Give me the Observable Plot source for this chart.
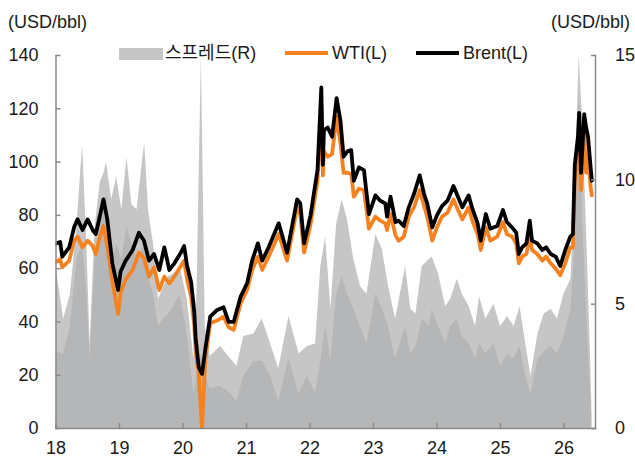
<!DOCTYPE html>
<html>
<head>
<meta charset="utf-8">
<script src="https://cdn.jsdelivr.net/npm/d3@7"></script>
<script src="https://cdn.jsdelivr.net/npm/@observablehq/plot@0.6"></script>
<style>
  html, body { margin: 0; padding: 0; background: #fff; }
  #chart svg { display: block; }
</style>
</head>
<body>
<div id="chart"></div>
<script>
// ---- Data ----
const priceDates = [
  "2018-01-01","2018-01-25","2018-02-06","2018-03-18","2018-04-15","2018-05-05","2018-06-03","2018-07-02","2018-07-31","2018-08-18",
  "2018-09-06","2018-10-01","2018-10-23","2018-11-21","2018-12-24","2019-01-08","2019-02-06","2019-03-18","2019-04-23","2019-05-22",
  "2019-06-20","2019-07-19","2019-08-18","2019-09-16","2019-10-15","2019-11-13","2019-12-20","2020-01-08","2020-01-25","2020-02-17",
  "2020-03-06","2020-03-14","2020-04-01","2020-04-20","2020-05-08","2020-06-06","2020-07-16","2020-08-22","2020-09-20","2020-10-19",
  "2020-11-28","2021-01-04","2021-02-02","2021-03-07","2021-04-01","2021-05-08","2021-07-05","2021-08-22","2021-10-19","2021-11-06",
  "2021-11-28","2022-01-04","2022-02-13","2022-03-07","2022-03-16","2022-03-22","2022-04-13","2022-05-08","2022-06-03","2022-06-25",
  "2022-07-13","2022-08-04","2022-08-26","2022-09-10","2022-10-09","2022-11-07","2022-12-06","2023-01-12","2023-02-09","2023-03-10",
  "2023-03-20","2023-04-09","2023-05-08","2023-05-26","2023-06-24","2023-07-23","2023-08-22","2023-09-24","2023-10-19","2023-11-06",
  "2023-12-05","2024-01-01","2024-01-30","2024-03-02","2024-04-05","2024-05-01","2024-05-26","2024-07-01","2024-07-23","2024-08-22",
  "2024-09-09","2024-10-08","2024-11-03","2024-12-13","2025-01-15","2025-02-06","2025-03-08","2025-04-01","2025-04-16","2025-05-05",
  "2025-05-30","2025-06-18","2025-07-01","2025-07-31","2025-08-29","2025-09-20","2025-10-16","2025-11-14","2025-12-10","2026-01-08",
  "2026-02-06","2026-02-21","2026-03-04","2026-03-22","2026-03-29","2026-04-09","2026-04-27","2026-05-08","2026-05-19","2026-06-03",
  "2026-06-10"
];
const brent = [
  69.5,70,64.5,68,75.5,78.5,74.5,78.5,74.5,73,
  78.5,86,78.5,62,52,59,63,67,73.5,70.5,
  63,65.5,59.5,68,59.5,62,66,68.5,61,55,
  44,34,23,20.5,29.5,42,44.5,45.5,40,40,
  49.5,54.5,63,69.5,63,68,77,66,86,84.5,
  69.5,80,97,128,99,112,113,109.5,124,115.5,
  102,104,104.5,93,98,97,80.5,87.5,85.5,84.5,
  79.5,87,77.5,78,76,83,88,95,88,84.5,
  75.5,80,83.5,85.5,91,87,83,87.5,82.5,77,
  70.5,80.5,75,76,82,77.5,75.5,73.5,65.5,68,
  69.5,78,70.5,69.5,67,68,65.5,64.5,61,67,
  72,73,99,109.5,118.5,96,118,113,109.5,98,
  93
];
const wti = [
  62.5,63.5,60.5,63,70.5,72,68,70.5,68.5,65.5,
  71,76,68.5,55.5,43,51,56,59.5,66,64,
  57,60.5,52,57,54.5,57,61,63,56,49.5,
  39,29.5,20.5,0,25.5,39.5,40.5,42,38,37,
  47,52,59.5,64.5,59.5,64.5,73,63,83,80.5,
  66,76.5,93,121,95,104,102,103,117,107,
  96,96,95.5,87,90,89.5,75,79.5,78,77,
  74.5,80.5,72.5,70.5,72,79.5,83,89.5,83.5,79.5,
  70.5,75.5,79.5,81,86,82,78.5,83,78,73,
  67,75.5,70.5,72,77.5,73,72,69.5,62,64.5,
  65.5,72.5,67,65.5,63,64.5,62,60,57.5,62,
  68,68,93,103,112,89.5,110.5,96,103,90.5,
  87.5
];

const spreadDates = [
  "2018-01-01","2018-02-14","2018-03-25","2018-05-01","2018-06-03","2018-06-28","2018-07-16","2018-08-14","2018-09-13","2018-10-01",
  "2018-10-19","2018-11-17","2018-12-16","2019-01-15","2019-02-13","2019-03-14","2019-04-12","2019-05-26","2019-06-17","2019-07-16",
  "2019-08-14","2019-09-13","2019-10-12","2019-11-07","2019-12-16","2020-01-26","2020-03-04","2020-03-22","2020-04-16","2020-04-28",
  "2020-05-08","2020-06-06","2020-08-04","2020-10-01","2020-11-07","2020-12-16","2021-02-13","2021-04-01","2021-05-19","2021-07-05",
  "2021-09-02","2021-10-30","2021-12-16","2022-02-02","2022-03-04","2022-04-01","2022-05-01","2022-06-03","2022-07-05","2022-08-04",
  "2022-09-10","2022-10-19","2022-11-24","2023-01-15","2023-02-21","2023-03-29","2023-05-08","2023-07-05","2023-08-04","2023-09-02",
  "2023-10-08","2023-11-17","2023-12-05","2024-01-11","2024-02-20","2024-03-20","2024-04-27","2024-05-26","2024-07-05","2024-08-10",
  "2024-09-02","2024-10-08","2024-11-24","2025-01-01","2025-02-10","2025-03-20","2025-04-23","2025-05-26","2025-06-25","2025-08-04",
  "2025-09-09","2025-10-19","2025-11-24","2026-01-01","2026-02-10","2026-03-11","2026-03-29","2026-04-20","2026-05-15","2026-06-03",
  "2026-06-10"
];
const spreadHigh = [
  6.5,4.4,5.4,8.1,11.4,7.3,3.4,8.1,9.9,10.2,
  10.7,9.2,10.1,8.8,10.9,9.0,8.8,11.5,8.8,7.4,
  5.2,5.7,6.1,6.2,6.5,5.2,2.8,5.4,15,9.4,
  4.1,2.9,3.3,2.8,2.5,3.7,3.8,4.4,3.4,2.4,
  4.5,3.0,3.3,3.4,6.5,7.7,4.8,8.2,9.2,8.4,
  6.8,5.7,5.4,7.8,7.2,5.7,4.4,6.5,4.8,4.6,
  6.5,6.8,6.9,6.2,4.9,5.2,6.0,5.4,4.9,4.1,
  5.3,4.4,5.0,4.1,4.5,4.1,4.9,3.4,2.1,3.8,
  4.6,4.8,4.4,5.4,6.0,10.8,15,12.1,7.0,2.8,
  1.0
];
const spreadLow = [
  3.1,3.0,4.1,6.8,7.4,5.4,2.7,6.8,8.1,9.0,
  9.4,6.8,7.4,6.8,8.1,7.4,6.8,7.4,6.1,5.4,
  4.1,4.4,4.6,4.9,5.4,3.8,1.4,2.1,3.0,2.5,
  2.1,1.6,1.7,1.4,1.1,2.1,2.7,2.7,2.1,1.1,
  2.8,1.4,2.1,1.4,2.7,4.1,2.7,5.4,6.1,5.4,
  4.8,4.1,3.4,5.4,4.8,4.1,2.8,4.1,3.0,3.3,
  4.4,4.1,4.8,4.1,3.4,4.1,4.4,3.7,3.4,2.8,
  3.4,3.0,3.4,2.5,3.0,2.8,3.3,2.1,1.4,2.8,
  3.1,3.3,3.0,3.7,4.8,8.1,13.5,8.1,4.1,1.4,
  0.5
];

const leftTicks = [0, 20, 40, 60, 80, 100, 120, 140];
const rightTicks = [0, 5, 10, 15];
const xTickDates = ["2018-01-01","2019-01-01","2020-01-01","2021-01-01","2022-01-01","2023-01-01","2024-01-01","2025-01-01","2026-01-01"];
const xTickLabels = ["18","19","20","21","22","23","24","25","26"];
const xDomain = ["2018-01-01","2026-07-01"];
const unitLabel = "(USD/bbl)";
const seriesNames = ["스프레드(R)", "WTI(L)", "Brent(L)"];

// ---- Build tables ----
const parse = s => new Date(s + "T00:00:00Z");
const k = leftTicks[leftTicks.length - 1] / rightTicks[rightTicks.length - 1];
const prices = priceDates.map((d, i) => ({date: parse(d), brent: brent[i], wti: wti[i]}));
const spread = spreadDates.map((d, i) => ({date: parse(d), high: spreadHigh[i] * k, low: spreadLow[i] * k}));

const FONT = "'Liberation Sans', Arial, 'Noto Sans CJK KR', sans-serif";
const AXIS = "#8a8a8a";
const C_LIGHT = "#c6c6c6", C_DARK = "#b5b6b8", C_WTI = "#f5821f", C_BRENT = "#000000";

const chart = Plot.plot({
  width: 635,
  height: 461,
  marginLeft: 55.5,
  marginRight: 40,
  marginTop: 55,
  marginBottom: 33,
  style: {fontFamily: FONT, fontSize: "18px", color: "#1a1a1a", background: "#fff", overflow: "visible"},
  x: {type: "utc", domain: xDomain.map(parse)},
  y: {domain: [leftTicks[0], leftTicks[leftTicks.length - 1]]},
  marks: [
    Plot.areaY(spread, {x: "date", y: "high", fill: C_LIGHT, clip: true}),
    Plot.areaY(spread, {x: "date", y: "low", fill: C_DARK, clip: true}),
    Plot.line(prices, {x: "date", y: "wti", stroke: C_WTI, strokeWidth: 3.8, clip: true}),
    Plot.line(prices, {x: "date", y: "brent", stroke: C_BRENT, strokeWidth: 3.8, clip: true}),
    Plot.frame({anchor: "left", stroke: AXIS, strokeWidth: 1.5}),
    Plot.frame({anchor: "right", stroke: AXIS, strokeWidth: 1.5}),
    Plot.frame({anchor: "bottom", stroke: AXIS, strokeWidth: 1.5}),
    Plot.axisY(leftTicks, {anchor: "left", label: null, tickSize: -5, tickPadding: 22.5, stroke: AXIS, fill: "#1a1a1a", strokeWidth: 1.5}),
    Plot.axisY(rightTicks.map(v => v * k), {anchor: "right", label: null, tickSize: -5, tickPadding: 24.5,
      tickFormat: (d, i) => String(rightTicks[i]), stroke: AXIS, fill: "#1a1a1a", strokeWidth: 1.5}),
    Plot.axisX(xTickDates.map(parse), {anchor: "bottom", label: null, tickSize: -5, tickPadding: 18,
      tickFormat: (d, i) => xTickLabels[i], stroke: AXIS, fill: "#1a1a1a", strokeWidth: 1.5})
  ]
});

// ---- Unit labels and legend inside the same SVG ----
const svg = d3.select(chart);
const txt = (x, y, s, anchor) => svg.append("text")
  .attr("x", x).attr("y", y).attr("text-anchor", anchor || "start")
  .attr("dominant-baseline", "central")
  .attr("font-family", FONT).attr("font-size", 18).attr("fill", "#1a1a1a").text(s);

txt(8, 22, unitLabel);
txt(630, 22, unitLabel, "end");

const lg = svg.append("g");
lg.append("rect").attr("x", 119).attr("y", 48).attr("width", 44).attr("height", 12).attr("fill", C_LIGHT);
lg.append("line").attr("x1", 285).attr("x2", 328).attr("y1", 53).attr("y2", 53).attr("stroke", C_WTI).attr("stroke-width", 4);
lg.append("line").attr("x1", 416).attr("x2", 459).attr("y1", 53).attr("y2", 53).attr("stroke", C_BRENT).attr("stroke-width", 4);
txt(165, 53, seriesNames[0]);
txt(332, 53, seriesNames[1]);
txt(463, 53, seriesNames[2]);

document.getElementById("chart").appendChild(chart);
</script>
</body>
</html>
